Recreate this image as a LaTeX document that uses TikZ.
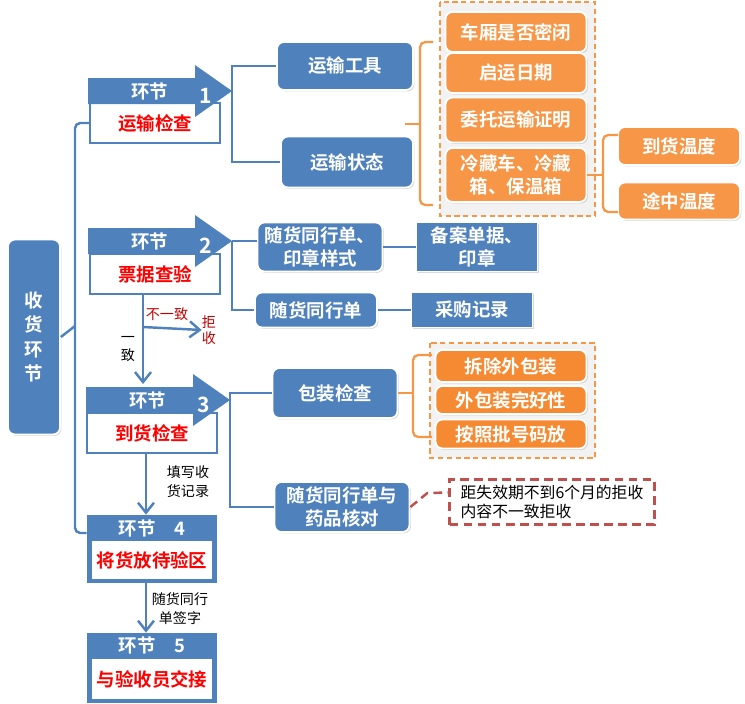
\documentclass[tikz,border=0pt]{standalone}
\usepackage{fontspec}
\setmainfont{Noto Sans CJK SC}[BoldFont={Noto Sans CJK SC Bold}]
\usepackage{tikz}
\usetikzlibrary{arrows.meta,shadows}
\definecolor{hjblue}{HTML}{4F81BD}
\definecolor{hjorange}{HTML}{F79646}
\definecolor{hjorange2}{HTML}{F58A32}
\definecolor{hjdark}{HTML}{C00000}
\definecolor{hjrdash}{HTML}{C0504D}

\begin{document}
\begin{tikzpicture}[x=0.02cm, y=-0.02cm, >={Straight Barb[length=2mm, width=3.2mm]},
	every node/.style={font=\fontsize{10.5}{13}\selectfont\bfseries, inner sep=0pt},
	bluebox/.style={fill=hjblue, draw=white, line width=1pt, rounded corners=4pt, text=white, align=center, drop shadow={shadow xshift=0.8pt, shadow yshift=-0.8pt, opacity=0.3}},
	flatbox/.style={bluebox, sharp corners},
	orangebox/.style={bluebox, fill=hjorange},
	stagebox/.style={fill=white, draw=hjblue, line width=1.3pt, text=red, minimum width=2.6cm, minimum height=0.8cm},
	stagebar/.style={fill=hjblue, minimum width=2.6cm},
	stageinner/.style={fill=white, text=red, minimum width=2.42cm},
	stagehead/.style={text=white},
	conn/.style={draw=hjblue, line width=1.4pt},
	flow/.style={conn, ->},
	obrace/.style={draw=hjorange, line width=1.3pt, rounded corners=3pt},
	oframe/.style={draw=hjorange, line width=1.2pt, dash pattern=on 3pt off 2pt, fill=black!5},
	remark/.style={font=\fontsize{8}{10.8}\selectfont, align=center}]
	\useasboundingbox (0,0) rectangle (745,704);
	% left column
	\node[bluebox, minimum width=1.04cm, minimum height=3.9cm, font=\fontsize{10.5}{14}\selectfont\bfseries] (root) at (34,337) {收\\货\\环\\节};
	\node[stagebox] (s1) at (155,123) {运输检查};
	\fill[hjblue] (88,78) -- ++(107,0) -- ++(0,-13) -- ++(37,26) coordinate (t1) -- ++(-37,26) -- ++(0,-13) -- ++(-107,0) -- cycle;
	\node[stagehead] (hd1) at (150,91) {环节};
	\node[stagehead, font=\fontsize{12}{14}\selectfont\bfseries] (nr1) at (206,96) {1};
	\node[stagebox] (s2) at (155,274) {票据查验};
	\fill[hjblue] (88,228) -- ++(107,0) -- ++(0,-13) -- ++(37,26) coordinate (t2) -- ++(-37,26) -- ++(0,-13) -- ++(-107,0) -- cycle;
	\node[stagehead] (hd2) at (150,241) {环节};
	\node[stagehead, font=\fontsize{12}{14}\selectfont\bfseries] (nr2) at (206,246) {2};
	\node[stagebox] (s3) at (152,433) {到货检查};
	\fill[hjblue] (86,387) -- ++(107,0) -- ++(0,-13) -- ++(37,26) coordinate (t3) -- ++(-37,26) -- ++(0,-13) -- ++(-107,0) -- cycle;
	\node[stagehead] (hd3) at (148,400) {环节};
	\node[stagehead, font=\fontsize{12}{14}\selectfont\bfseries] (nr3) at (204,405) {3};
	\node[stagebar, minimum height=1.36cm] (b4) at (152,549) {};
	\node[stageinner, minimum height=0.76cm] (s4) at (152,560) {将货放待验区};
	\node[stagehead] (hd4) at (152,528) {环节\quad 4};
	\node[stagebar, minimum height=1.4cm] (b5) at (152,668) {};
	\node[stageinner, minimum height=0.8cm] (s5) at (152,679) {与验收员交接};
	\node[stagehead] (hd5) at (152,645) {环节\quad 5};
	% labels on the flow
	\node[remark, text=hjdark] (ne) at (167,314) {不一致};
	\node[remark, text=hjdark, font=\fontsize{8}{8.8}\selectfont] (rej) at (209,330) {拒\\收};
	\node[remark, font=\fontsize{8}{10}\selectfont] (ok) at (128,349) {一\\致};
	\node[remark] (recnote) at (188,482) {填写收\\货记录};
	\node[remark] (signnote) at (180,609) {随货同行\\单签字};
	% transport check
	\node[bluebox, minimum width=2.72cm, minimum height=0.96cm] (tool) at (345,66) {运输工具};
	\node[bluebox, minimum width=2.64cm, minimum height=1.02cm] (state) at (347,162) {运输状态};
	\draw[oframe] (440,2) rectangle (595,216);
	\node[orangebox, minimum width=2.82cm, minimum height=0.8cm] (o11) at (516,32) {车厢是否密闭};
	\node[orangebox, minimum width=2.82cm, minimum height=0.8cm] (o12) at (516,73) {启运日期};
	\node[orangebox, minimum width=2.82cm, minimum height=0.9cm] (o13) at (516,120) {委托运输证明};
	\node[orangebox, minimum width=2.82cm, minimum height=1.08cm] (o14) at (516,175) {冷藏车、冷藏\\箱、保温箱};
	\draw[obrace] (433,42) -- (420,42) -- (420,205) -- (433,205);
	\draw[obrace] (420,124) -- (405,124);
	\node[orangebox, minimum width=2.44cm, minimum height=0.76cm] (o21) at (679,146) {到货温度};
	\node[orangebox, minimum width=2.44cm, minimum height=0.74cm] (o22) at (679,201) {途中温度};
	\draw[obrace] (o14.east) -- (603,175);
	\draw[obrace] (618,135) -- (603,135) -- (603,212) -- (618,212);
	% document check
	\node[bluebox, minimum width=2.5cm, minimum height=0.98cm] (doc1) at (320,247) {随货同行单、\\印章样式};
	\node[flatbox, minimum width=2.42cm, minimum height=0.98cm] (rec1) at (477,247) {备案单据、\\印章};
	\node[bluebox, minimum width=2.44cm, minimum height=0.7cm] (doc2) at (316,310) {随货同行单};
	\node[flatbox, minimum width=2.42cm, minimum height=0.7cm] (rec2) at (472,310) {采购记录};
	% arrival check
	\node[bluebox, minimum width=2.5cm, minimum height=1cm] (pack) at (335,393) {包装检查};
	\draw[oframe] (430,343) rectangle (595,458);
	\node[orangebox, fill=hjorange2, minimum width=3.02cm, minimum height=0.64cm] (o31) at (511,366) {拆除外包装};
	\node[orangebox, fill=hjorange2, minimum width=3.02cm, minimum height=0.56cm] (o32) at (511,400) {外包装完好性};
	\node[orangebox, fill=hjorange2, minimum width=3.02cm, minimum height=0.58cm] (o33) at (511,434) {按照批号码放};
	\draw[obrace] (pack.east) -- (413,393);
	\draw[obrace] (432,355) -- (413,355) -- (413,437) -- (432,437);
	\node[bluebox, minimum width=2.7cm, minimum height=1cm] (check) at (342,507) {随货同行单与\\药品核对};
	\node[draw=hjrdash, line width=1.4pt, dash pattern=on 5pt off 3pt, minimum width=4.1cm, minimum height=0.9cm, align=left, font=\fontsize{9}{10.8}\selectfont] (note) at (552,502) {距失效期不到6个月的拒收\\内容不一致拒收};
	% connectors
	\coordinate (jl) at (75,326);
	\draw[conn] (root.east) -- (jl);
	\draw[conn, rounded corners=3pt] (s1.west) -| (jl) |- ([yshift=0.32cm]b4.west);
	\draw[conn] (tool.west) -| (t1) |- (state.west);
	\draw[conn] (t2) -- (doc1.west |- t2);
	\draw[conn] (t2) |- (doc2.west);
	\draw[conn] (doc1) -- (rec1);
	\draw[conn] (doc2) -- (rec2);
	\draw[conn] (pack.west) -| (t3) |- (check.west);
	\draw[draw=hjrdash, line width=1.4pt, dash pattern=on 5pt off 3pt] (check.east) -- ++(17,-14) -- ([yshift=0.19cm]note.west);
	\coordinate (in3) at (143,384);
	\coordinate (j2) at (143,327);
	\draw[flow] (s2.south -| in3) -- (in3);
	\draw[flow] (j2) -- (rej.west);
	\draw[flow] ([xshift=-0.12cm]s3.south) -- ([xshift=-0.12cm]b4.north);
	\draw[flow] ([xshift=-0.12cm]b4.south) -- ([xshift=-0.12cm]b5.north);
\end{tikzpicture}
\end{document}
